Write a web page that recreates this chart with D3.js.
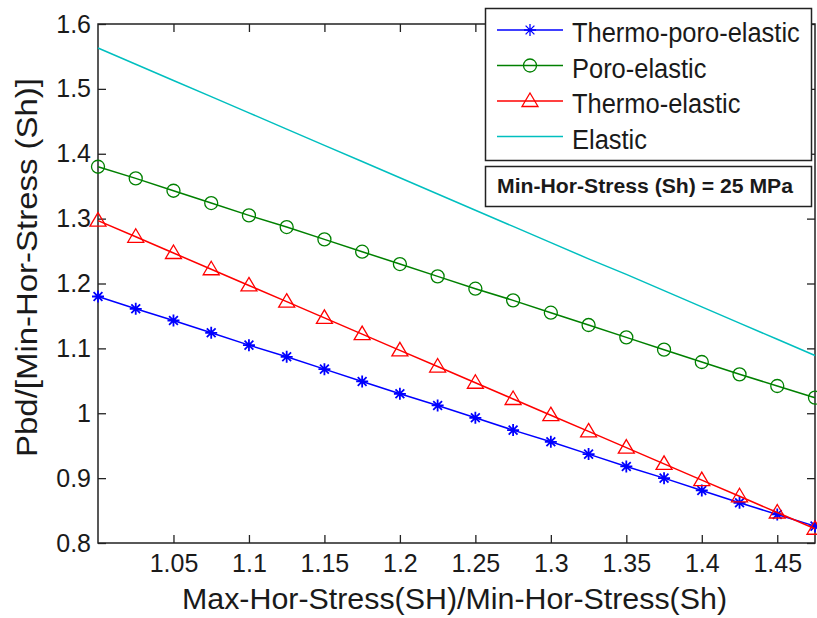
<!DOCTYPE html>
<html>
<head>
<meta charset="utf-8">
<script src="https://cdn.jsdelivr.net/npm/d3@7"></script>
<style>
  body { margin: 0; background: #fff; }
  svg { display: block; }
  text { font-family: Arial, "Liberation Sans", sans-serif; fill: #1a1a1a; }
</style>
</head>
<body>
<div id="chart"></div>
<script>

// ratio of horizontal stresses (x values)
var ratios = [1.000, 1.025, 1.050, 1.075, 1.100, 1.125, 1.150, 1.175, 1.200, 1.225,
              1.250, 1.275, 1.300, 1.325, 1.350, 1.375, 1.400, 1.425, 1.450, 1.475];

// breakdown pressure / Sh for each model
var thermoPoroElastic = [1.180, 1.161, 1.143, 1.124, 1.105, 1.087, 1.068, 1.049, 1.030, 1.012,
                         0.993, 0.974, 0.956, 0.937, 0.918, 0.900, 0.881, 0.862, 0.844, 0.826];
var poroElastic = [1.380, 1.362, 1.343, 1.324, 1.305, 1.287, 1.268, 1.249, 1.230, 1.211,
                   1.192, 1.174, 1.155, 1.136, 1.117, 1.098, 1.079, 1.060, 1.042, 1.024];
var thermoElastic = [1.297, 1.272, 1.247, 1.222, 1.197, 1.172, 1.147, 1.122, 1.097, 1.072,
                     1.047, 1.022, 0.997, 0.972, 0.947, 0.922, 0.897, 0.872, 0.847, 0.822];
var elastic = [1.563, 1.538, 1.513, 1.488, 1.463, 1.438, 1.413, 1.388, 1.363, 1.338,
               1.313, 1.288, 1.263, 1.238, 1.214, 1.189, 1.164, 1.139, 1.114, 1.089];

var seriesNames = ["Thermo-poro-elastic", "Poro-elastic", "Thermo-elastic", "Elastic"];
var xTicks = [1.05, 1.1, 1.15, 1.2, 1.25, 1.3, 1.35, 1.4, 1.45];
var yTicks = [0.8, 0.9, 1.0, 1.1, 1.2, 1.3, 1.4, 1.5, 1.6];
var noteText = "Min-Hor-Stress (Sh) = 25 MPa";

// set the dimensions and margins of the graph
var margin = {top: 24, right: 2, bottom: 75, left: 98},
    width = 817 - margin.left - margin.right,
    height = 618 - margin.top - margin.bottom;

var x = d3.scaleLinear().domain([1, 1.475]).range([0, width]);
var y = d3.scaleLinear().domain([0.8, 1.6]).range([height, 0]);

var svg = d3.select("#chart").append("svg")
    .attr("width", 817)
    .attr("height", 618);

var plot = svg.append("g")
    .attr("transform", "translate(" + margin.left + "," + margin.top + ")");

var series = [
  {name: seriesNames[0], values: thermoPoroElastic, color: "#0000ff", marker: "star"},
  {name: seriesNames[1], values: poroElastic, color: "#008000", marker: "circle"},
  {name: seriesNames[2], values: thermoElastic, color: "#ff0000", marker: "triangle"},
  {name: seriesNames[3], values: elastic, color: "#00bfbf", marker: null}
];

// marker shapes (matlab style)
function markerPath(type) {
  if (type == "star") {
    var r = 6, d = 4.4;
    return "M" + (-r) + ",0L" + r + ",0M0," + (-r) + "L0," + r +
           "M" + (-d) + "," + (-d) + "L" + d + "," + d +
           "M" + (-d) + "," + d + "L" + d + "," + (-d);
  }
  if (type == "triangle") {
    return "M0,-8L8,5.5L-8,5.5Z";
  }
  if (type == "circle") {
    var c = d3.path();
    c.arc(0, 0, 6.5, 0, 2 * Math.PI);
    return c.toString();
  }
  return "";
}

// axes (box style, ticks pointing inward)
var axisColor = "#222";
var tickLen = 8;

plot.append("g")
    .attr("transform", "translate(0," + height + ")")
    .call(d3.axisBottom(x).tickValues(xTicks).tickSizeInner(-tickLen).tickSizeOuter(0)
          .tickPadding(11).tickFormat(d3.format("")))
    .call(function(g) {
      g.select(".domain").remove();
      g.selectAll("line").attr("stroke", axisColor).attr("stroke-width", 1.3);
      g.selectAll("text").style("font-size", "25px").attr("fill", "#1a1a1a");
    });

plot.append("g")
    .call(d3.axisTop(x).tickValues(xTicks).tickSizeInner(-tickLen).tickSizeOuter(0).tickFormat(""))
    .call(function(g) {
      g.select(".domain").remove();
      g.selectAll("line").attr("stroke", axisColor).attr("stroke-width", 1.3);
    });

plot.append("g")
    .call(d3.axisLeft(y).tickValues(yTicks).tickSizeInner(-tickLen).tickSizeOuter(0)
          .tickPadding(7).tickFormat(d3.format("")))
    .call(function(g) {
      g.select(".domain").remove();
      g.selectAll("line").attr("stroke", axisColor).attr("stroke-width", 1.3);
      g.selectAll("text").style("font-size", "25px").attr("fill", "#1a1a1a");
    });

plot.append("g")
    .attr("transform", "translate(" + width + ",0)")
    .call(d3.axisRight(y).tickValues(yTicks).tickSizeInner(-tickLen).tickSizeOuter(0).tickFormat(""))
    .call(function(g) {
      g.select(".domain").remove();
      g.selectAll("line").attr("stroke", axisColor).attr("stroke-width", 1.3);
    });

plot.append("rect")
    .attr("width", width)
    .attr("height", height)
    .attr("fill", "none")
    .attr("stroke", axisColor)
    .attr("stroke-width", 1.5);

// lines + markers
var line = d3.line()
    .x(function(d) { return x(d.x); })
    .y(function(d) { return y(d.y); });

series.forEach(function(s) {
  var pts = ratios.map(function(r, i) { return {x: r, y: s.values[i]}; });

  plot.append("path")
      .datum(pts)
      .attr("fill", "none")
      .attr("stroke", s.color)
      .attr("stroke-width", 1.5)
      .attr("d", line);

  if (s.marker) {
    plot.selectAll(".m-" + s.marker)
        .data(pts)
      .enter().append("path")
        .attr("class", "m-" + s.marker)
        .attr("transform", function(d) { return "translate(" + x(d.x) + "," + y(d.y) + ")"; })
        .attr("d", markerPath(s.marker))
        .attr("fill", "none")
        .attr("stroke", s.color)
        .attr("stroke-width", s.marker == "star" ? 1.8 : 1.3);
  }
});

// axis labels
svg.append("text")
    .attr("x", 182)
    .attr("y", 609)
    .attr("textLength", 545)
    .attr("lengthAdjust", "spacingAndGlyphs")
    .style("font-size", "29px")
    .text("Max-Hor-Stress(SH)/Min-Hor-Stress(Sh)");

svg.append("text")
    .attr("transform", "translate(37,457) rotate(-90)")
    .attr("textLength", 379)
    .attr("lengthAdjust", "spacingAndGlyphs")
    .style("font-size", "29px")
    .text("Pbd/[Min-Hor-Stress (Sh)]");

// legend
var legend = svg.append("g");

legend.append("rect")
    .attr("x", 485.5).attr("y", 8.5)
    .attr("width", 326).attr("height", 152)
    .attr("fill", "#fff")
    .attr("stroke", axisColor)
    .attr("stroke-width", 1.5);

series.forEach(function(s, i) {
  var cy = 30 + i * 35.5;
  legend.append("line")
      .attr("x1", 497).attr("x2", 563)
      .attr("y1", cy).attr("y2", cy)
      .attr("stroke", s.color)
      .attr("stroke-width", 1.5);
  if (s.marker) {
    legend.append("path")
        .attr("transform", "translate(530," + cy + ")")
        .attr("d", markerPath(s.marker))
        .attr("fill", "none")
        .attr("stroke", s.color)
        .attr("stroke-width", 1.3);
  }
  legend.append("text")
      .attr("transform", "translate(572," + (cy + 12) + ") scale(0.91,1)")
      .style("font-size", "28px")
      .text(s.name);
});

// note box
legend.append("rect")
    .attr("x", 485.5).attr("y", 166.5)
    .attr("width", 326).attr("height", 40)
    .attr("fill", "#fff")
    .attr("stroke", axisColor)
    .attr("stroke-width", 1.5);

legend.append("text")
    .attr("x", 497)
    .attr("y", 193)
    .attr("textLength", 296)
    .attr("lengthAdjust", "spacingAndGlyphs")
    .style("font-size", "20px")
    .style("font-weight", "bold")
    .text(noteText);

</script>
</body>
</html>
